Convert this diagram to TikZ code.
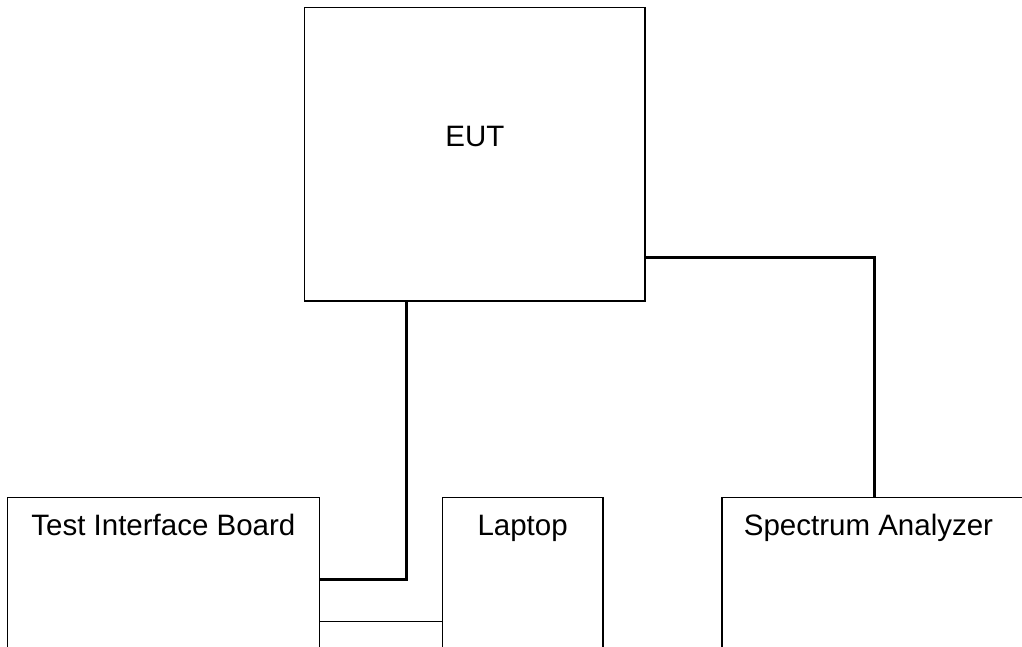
\documentclass[tikz,border=0pt]{standalone}
\usepackage{fontspec}
\setmainfont{Liberation Sans}
\usetikzlibrary{calc}
\begin{document}
\begin{tikzpicture}[x=1pt,y=-1pt,
  box/.style={draw, line width=1.3pt, inner sep=0pt, outer sep=0pt, rectangle},
  lbl/.style={font=\fontsize{29.5}{35}\selectfont, inner sep=0pt, anchor=base},
  heavy/.style={line width=3pt},
  light/.style={line width=1pt}]
\useasboundingbox (0,0) rectangle (1022,647);
\clip (0,0) rectangle (1022,647);
% boxes
\node[box, minimum width=340.3pt, minimum height=293.7pt] (eut) at (474.85,154.15) {};
\node[box, minimum width=311.8pt, minimum height=202.7pt] (tib) at (163.4,598.65) {};
\node[box, minimum width=160.7pt, minimum height=202.7pt] (lap) at (522.65,598.65) {};
\node[box, minimum width=318pt, minimum height=202.7pt] (sa) at (881,598.65) {};
% labels
\node[lbl] (eutt) at ($(eut.north)+(0,139.4)$) {EUT};
\node[lbl] (tibt) at ($(tib.north)+(0,37.7)$) {Test Interface Board};
\node[lbl] (lapt) at ($(lap.north)+(0,37.7)$) {Laptop};
\node[lbl] (sat) at ($(sa.north west)+(146.5,37.7)$) {Spectrum Analyzer};
% connectors
\draw[heavy] ($(eut.south west)+(101.5,0)$) |- ($(tib.north east)+(0,81.7)$);
\draw[heavy] ($(eut.north east)+(0,250)$) -| ($(sa.north west)+(152,0)$);
\draw[light] ($(tib.north east)+(0,124)$) -- ($(lap.north west)+(0,124)$);
\end{tikzpicture}
\end{document}
